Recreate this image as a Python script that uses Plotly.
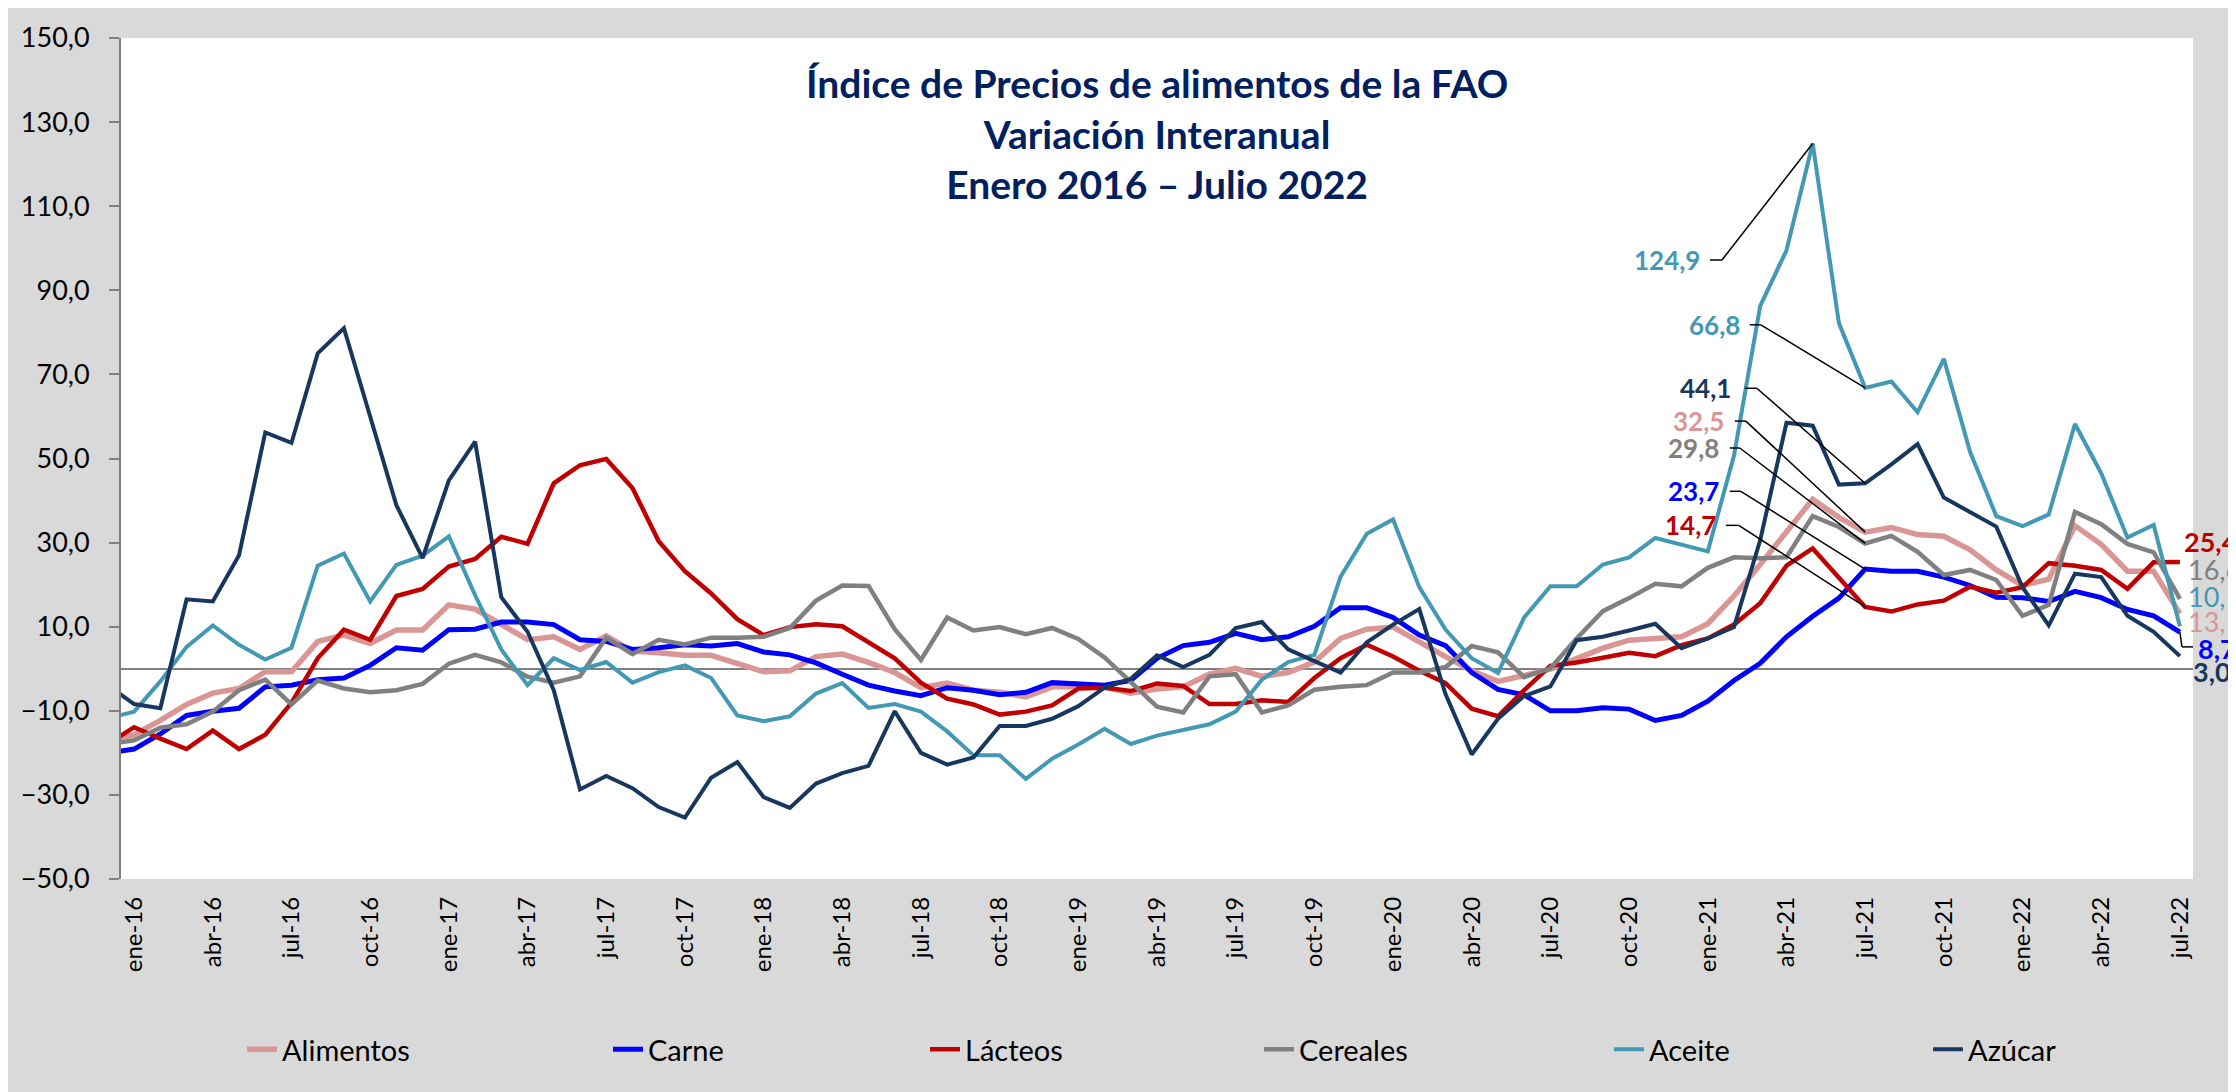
import plotly.graph_objects as go

# ---------------- data ----------------
months = ["dic-15"] + [f"{m}-{y}" for y in range(16, 23)
                       for m in ["ene", "feb", "mar", "abr", "may", "jun",
                                 "jul", "ago", "sep", "oct", "nov", "dic"]]
months = months[:80]  # dic-15 ... jul-22

alimentos = [-17.0, -15.7, -12.3, -8.5, -5.8, -4.7, -0.7, -0.7, 6.5, 8.0, 6.0,
             9.2, 9.2, 15.2, 14.2, 10.5, 6.9, 7.6, 4.6, 7.8, 4.2,
             3.8, 3.2, 3.2, 1.2, -0.7, -0.5, 2.9, 3.5, 1.5, -0.9,
             -4.5, -3.4, -5.1, -5.6, -6.7, -4.3, -4.3, -4.3, -5.8, -4.8,
             -4.3, -1.3, 0.1, -1.8, -0.9, 1.6, 7.2, 9.4, 9.9, 6.3,
             2.9, -0.5, -3.0, -1.6, -0.1, 2.4, 4.9, 6.8, 7.2, 7.6,
             10.7, 17.3, 24.8, 32.3, 40.3, 36.0, 32.5, 33.6, 31.9, 31.5,
             28.3, 23.5, 19.8, 21.3, 34.0, 29.6, 23.2, 23.2, 13.1]
carne = [-20.0, -19.1, -15.5, -11.1, -10.1, -9.4, -4.3, -3.9, -2.6, -2.2, 0.8,
         5.0, 4.4, 9.3, 9.4, 11.1, 11.1, 10.5, 6.9, 6.5, 4.6,
         5.0, 5.7, 5.4, 6.0, 4.0, 3.3, 1.4, -1.3, -3.9, -5.3,
         -6.4, -4.5, -5.1, -6.2, -5.6, -3.3, -3.5, -3.9, -2.8, 2.5,
         5.5, 6.3, 8.4, 6.9, 7.6, 10.1, 14.5, 14.5, 12.2, 8.0,
         5.5, -0.9, -4.9, -6.2, -10.0, -10.0, -9.3, -9.6, -12.3, -11.1,
         -7.7, -2.8, 1.3, 7.6, 12.5, 16.8, 23.7, 23.2, 23.2, 21.8,
         19.8, 17.0, 16.9, 16.0, 18.4, 16.9, 14.1, 12.6, 8.7]
lacteos = [-17.9, -13.9, -16.6, -19.1, -14.7, -19.1, -15.7, -8.1, 2.5, 9.3, 6.9,
           17.3, 19.0, 24.3, 26.1, 31.4, 29.7, 44.1, 48.4, 49.9, 43.0,
           30.3, 23.2, 17.9, 11.8, 8.0, 9.9, 10.6, 10.1, 6.3, 2.5,
           -3.3, -7.1, -8.5, -10.9, -10.2, -8.7, -4.7, -4.5, -5.3, -3.5,
           -4.1, -8.4, -8.4, -7.5, -7.9, -2.2, 2.5, 5.7, 2.9, -0.5,
           -3.4, -9.5, -11.3, -5.1, 0.7, 1.5, 2.6, 3.8, 3.0, 5.6,
           7.2, 10.5, 15.6, 24.5, 28.6, 21.7, 14.7, 13.6, 15.3, 16.2,
           19.5, 18.1, 19.4, 25.1, 24.5, 23.5, 19.0, 25.3, 25.4]
cereales = [-18.0, -17.0, -14.0, -13.2, -10.2, -5.1, -2.6, -8.5, -2.8, -4.7, -5.6,
            -5.1, -3.6, 1.2, 3.3, 1.5, -1.9, -3.3, -1.8, 7.4, 3.5,
            6.9, 5.8, 7.4, 7.4, 7.6, 9.7, 16.2, 19.8, 19.7, 9.4,
            2.1, 12.2, 9.1, 9.9, 8.2, 9.7, 7.1, 2.7, -3.0, -9.0,
            -10.4, -1.8, -1.3, -10.4, -8.7, -5.0, -4.3, -3.9, -0.9, -0.9,
            0.4, 5.4, 3.9, -2.0, 0.1, 7.2, 13.7, 16.8, 20.2, 19.6,
            24.0, 26.5, 26.3, 26.5, 36.3, 33.7, 29.8, 31.6, 27.8, 22.3,
            23.5, 21.1, 12.6, 15.2, 37.3, 34.4, 29.7, 27.7, 16.6]
aceite = [-11.8, -10.2, -3.0, 5.2, 10.3, 5.7, 2.2, 5.0, 24.5, 27.4, 16.0,
          24.7, 26.9, 31.5, 17.5, 4.6, -3.9, 2.5, -0.3, 1.6, -3.3,
          -0.8, 0.8, -2.2, -11.1, -12.5, -11.3, -5.9, -3.4, -9.3, -8.4,
          -10.2, -14.9, -20.6, -20.6, -26.2, -21.4, -18.0, -14.3, -17.9, -15.9,
          -14.5, -13.2, -10.2, -2.6, 1.6, 3.3, 21.9, 32.1, 35.5, 19.4,
          9.3, 2.5, -1.0, 12.2, 19.6, 19.6, 24.8, 26.5, 31.1, 29.4,
          27.9, 50.7, 86.3, 99.5, 124.9, 82.2, 66.8, 68.3, 61.0, 73.7,
          51.6, 36.3, 33.9, 36.7, 58.2, 46.5, 31.2, 34.2, 10.1]
azucar = [-4.0, -8.4, -9.4, 16.5, 16.0, 27.0, 56.2, 53.7, 75.0, 81.0, 60.0,
          38.9, 26.3, 44.8, 54.0, 17.0, 8.8, -5.1, -28.7, -25.5, -28.4,
          -32.9, -35.4, -25.9, -22.2, -30.5, -33.1, -27.3, -24.8, -23.1, -10.1,
          -20.0, -22.8, -21.1, -13.6, -13.6, -11.9, -8.9, -4.5, -2.4, 3.2,
          0.4, 3.3, 9.7, 11.1, 4.6, 1.8, -0.9, 6.3, 10.5, 14.2,
          -6.0, -20.4, -11.9, -6.5, -4.2, 6.8, 7.6, 9.1, 10.7, 4.9,
          7.2, 9.9, 30.6, 58.5, 57.8, 43.8, 44.1, 48.6, 53.4, 40.7,
          37.3, 33.8, 19.4, 10.3, 22.6, 21.8, 12.6, 8.8, 3.0]

series_names = ["Alimentos", "Carne", "Lácteos", "Cereales", "Aceite", "Azúcar"]
series_values = [alimentos, carne, lacteos, cereales, aceite, azucar]
series_colors = ["#DA9694", "#0000FF", "#C00000", "#808080", "#4399B4", "#17375E"]
series_widths = [5.5, 5, 4.5, 4.5, 4, 4]

tick_labels = months[1::3]  # ene-16, abr-16, ... jul-22

# ---------------- layout geometry (figure pixels) ----------------
W, H = 2228, 1084
ML, MR, MT, MB = 113, 43, 27, 213
PW, PH = W - ML - MR, H - MT - MB

def px_x(px):   # figure px -> paper x
    return (px - ML) / PW

def px_y(py):   # figure px -> paper y
    return (H - MB - py) / PH

FONT = "Lato"
fig = go.Figure()

legend_text_x = [276, 642, 959, 1293, 1643, 1962]
for k, (name, vals, col, lw) in enumerate(zip(series_names, series_values,
                                              series_colors, series_widths)):
    lg = "legend" if k == 0 else f"legend{k+1}"
    fig.add_trace(go.Scatter(x=months, y=vals, name=name, mode="lines",
                             line=dict(color=col, width=lw),
                             legend=lg, hoverinfo="skip"))

def fmt(v):
    return f"{v:.1f}".replace(".", ",")

# callouts: (series index, month, label right x idx, label y, stub x0, stub x1)
callouts = [
    (4, "may-21", 60.77, 97.2, 61.08, 61.54),
    (4, "jul-21", 62.30, 81.8, 62.60, 63.02),
    (5, "jul-21", 61.96, 66.7, 62.41, 62.87),
    (0, "jul-21", 61.69, 58.9, 62.03, 62.45),
    (3, "jul-21", 61.50, 52.5, 61.84, 62.22),
    (1, "jul-21", 61.50, 42.2, 61.84, 62.26),
    (2, "jul-21", 61.38, 34.1, 61.69, 62.18),
]
annotations = []
shapes = []
for si, mon, lx, ly, sx0, sx1 in callouts:
    mi = months.index(mon)
    val = series_values[si][mi]
    annotations.append(dict(x=lx, y=ly, xref="x", yref="y", text=fmt(val),
                            showarrow=False, xanchor="right", yanchor="middle",
                            font=dict(family=FONT, size=26, color=series_colors[si],
                                      weight="bold")))
    shapes.append(dict(type="line", xref="x", yref="y", x0=sx0, x1=sx1, y0=ly, y1=ly,
                       line=dict(color="black", width=1.5)))
    shapes.append(dict(type="line", xref="x", yref="y", x0=sx1, y0=ly, x1=mi, y1=val,
                       line=dict(color="black", width=1.5)))

# end labels (jul-22), positioned in figure pixels (left edge, vertical centre)
last = len(months) - 1
end_labels = [  # series idx, left px, centre px, bold
    (2, 2174, 532, True),
    (3, 2178, 560, False),
    (4, 2178, 587, False),
    (0, 2178, 613, False),
    (1, 2188, 640, True),
    (5, 2183, 663, True),
]
for si, lx, ly, bold in end_labels:
    annotations.append(dict(x=px_x(lx), y=px_y(ly), xref="paper", yref="paper",
                            text=fmt(series_values[si][last]), showarrow=False,
                            xanchor="left", yanchor="middle",
                            font=dict(family=FONT, size=27, color=series_colors[si],
                                      weight="bold" if bold else "normal")))
# leader for Carne end label
shapes.append(dict(type="line", xref="x", yref="y", x0=last, y0=carne[last],
                   x1=last + 0.08, y1=5.2, line=dict(color="black", width=1.5)))
shapes.append(dict(type="line", xref="x", yref="y", x0=last + 0.08, y0=5.2,
                   x1=last + 0.54, y1=5.2, line=dict(color="black", width=1.5)))

# title
annotations.append(dict(
    x=0.5, y=px_y(131 - 8), xref="paper", yref="paper",
    text="Índice de Precios de alimentos de la FAO<br>Variación Interanual<br>Enero 2016 – Julio 2022",
    showarrow=False, xanchor="center", yanchor="middle",
    font=dict(family=FONT, size=39, color="#002060", weight="bold")))

layout_legends = {}
for k in range(6):
    key = "legend" if k == 0 else f"legend{k+1}"
    layout_legends[key] = dict(x=px_x(legend_text_x[k] - 42), y=px_y(1042),
                               xanchor="left", yanchor="middle",
                               orientation="h", bgcolor="rgba(0,0,0,0)",
                               font=dict(family=FONT, size=29, color="black"))

fig.update_layout(
    width=W, height=H, autosize=False,
    margin=dict(l=ML, r=MR, t=MT, b=MB, pad=0),
    paper_bgcolor="#D9D9D9", plot_bgcolor="white",
    separators=",.",
    showlegend=True,
    annotations=annotations, shapes=shapes,
    xaxis=dict(type="category", categoryorder="array", categoryarray=months,
               range=[0.5, len(months) - 0.5],
               tickmode="array", tickvals=tick_labels, ticktext=tick_labels,
               tickangle=-90, ticks="", showline=False, showgrid=False,
               zeroline=False, ticklabelstandoff=12,
               tickfont=dict(family=FONT, size=24, color="black")),
    yaxis=dict(range=[-50, 150], tick0=-50, dtick=20, tickformat=".1f",
               showgrid=False, showline=True, linecolor="#808080", linewidth=2,
               ticks="outside", ticklen=10, tickwidth=2, tickcolor="#808080",
               zeroline=True, zerolinecolor="#808080", zerolinewidth=2,
               ticklabelstandoff=14,
               tickfont=dict(family=FONT, size=27, color="black")),
    **layout_legends,
)

fig.write_html("out.html")
